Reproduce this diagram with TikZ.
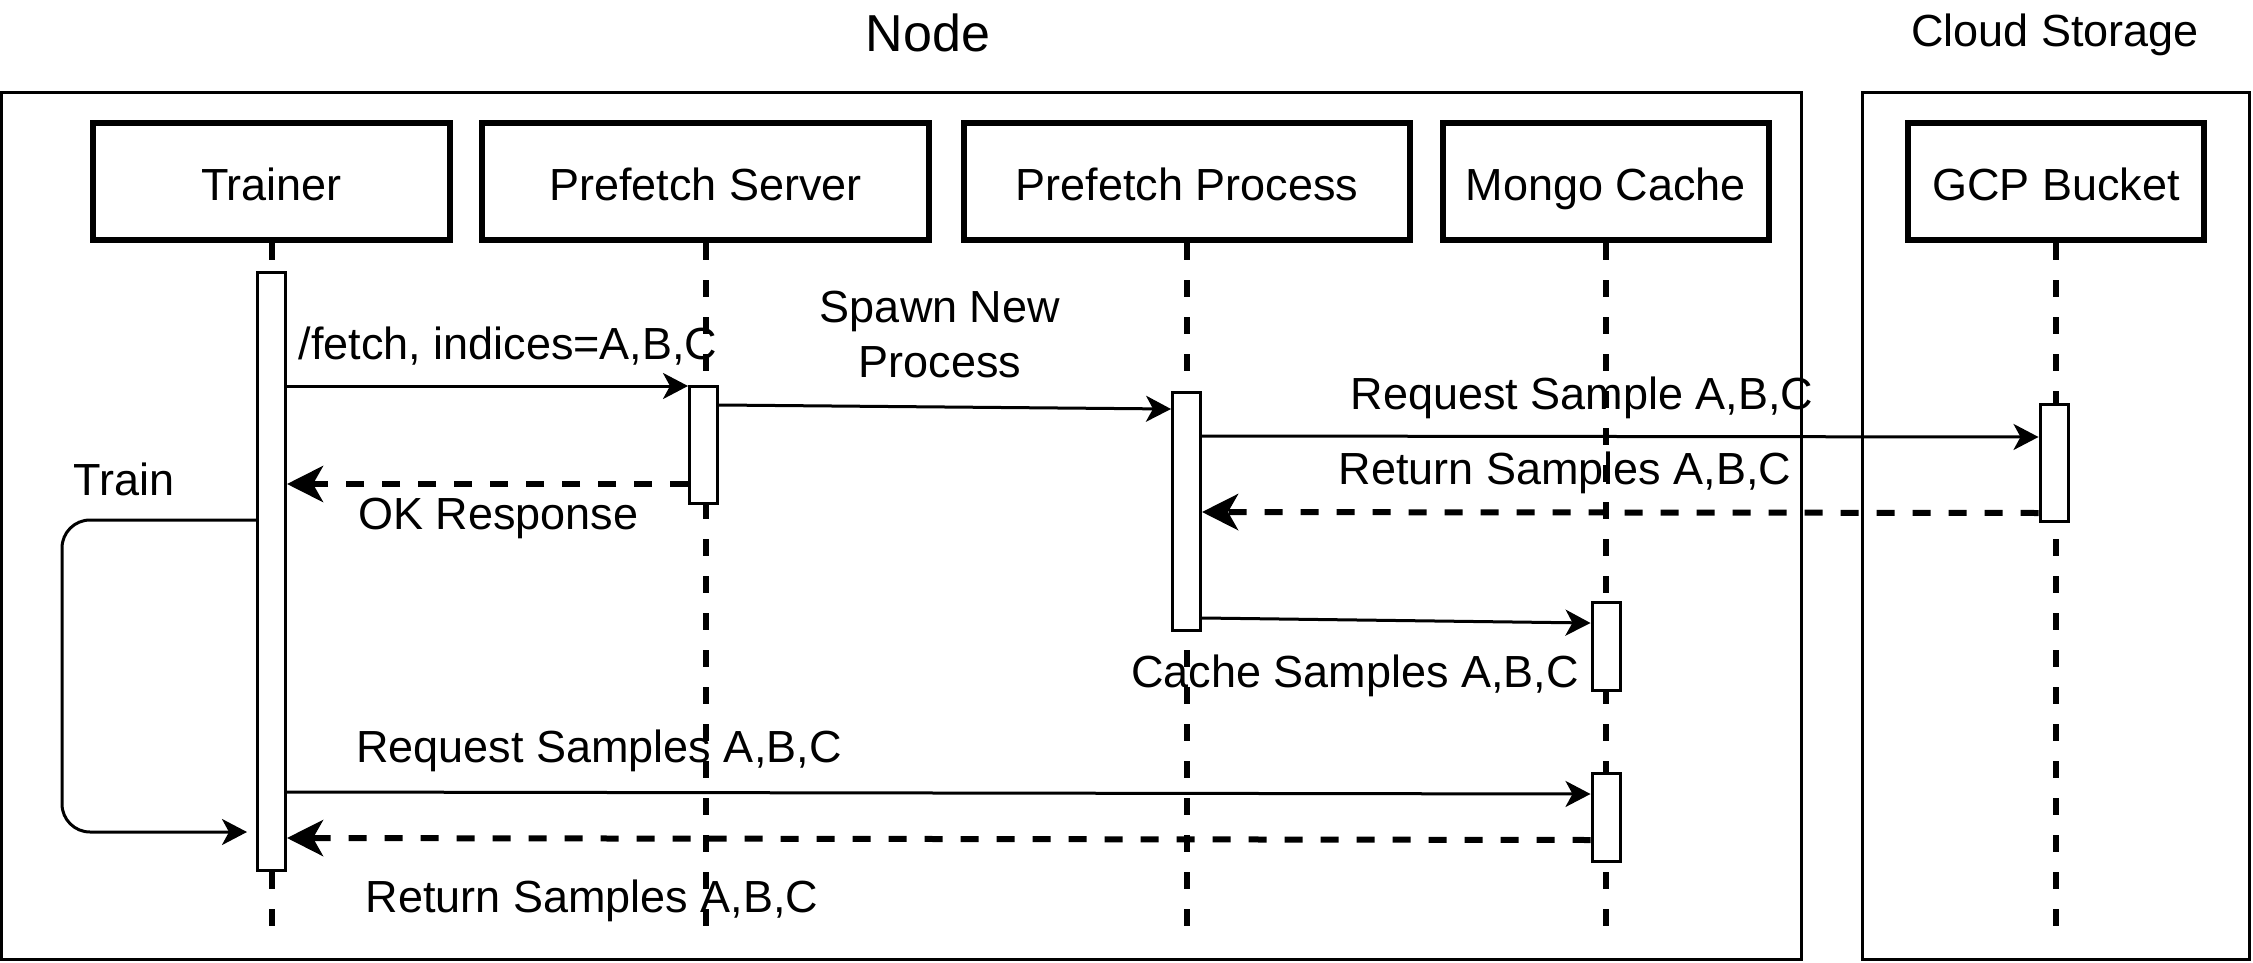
\documentclass[tikz,border=0pt]{standalone}
\usepackage{fontspec}
\setmainfont{Liberation Sans}
\usetikzlibrary{arrows.meta}
\newcommand\lblfont{\fontsize{22.5}{27}\selectfont}
\begin{document}
\begin{tikzpicture}[x=0.5pt,y=-0.5pt,
  hdr/.style={draw, line width=3pt, minimum height=58.5pt, inner sep=0pt, text height=20pt, text depth=1.5pt, font=\lblfont},
  act/.style={draw, fill=white, line width=1.5pt, minimum width=14pt, inner sep=0pt},
  life/.style={line width=3pt, dash pattern=on 8.5pt off 10pt},
  msg/.style={line width=1.5pt, -{Stealth[length=12.5pt,width=13pt,inset=3.5pt]}},
  ret/.style={line width=3pt, dash pattern=on 9pt off 9pt, -{Stealth[length=18pt,width=18pt,inset=5pt]}},
  lbl/.style={anchor=base, inner sep=0pt, font=\lblfont},
  frame/.style={draw, line width=1.5pt, inner sep=0pt}]
\useasboundingbox (0,0) rectangle (2253,963);

% frames and titles
\node[frame, minimum width=900pt, minimum height=433.5pt] (nodeframe) at (901.5,526) {};
\node[frame, minimum width=193.5pt, minimum height=433.5pt] (cloudframe) at (2056,526) {};
\node[anchor=base, inner sep=0pt, font=\fontsize{26}{31}\selectfont] (nodetitle) at (928,52) {Node};
\node[lbl] (cloudtitle) at (2055,47) {Cloud Storage};

% headers
\node[hdr, minimum width=178.5pt] (trainer) at (271.5,181.5) {Trainer};
\node[hdr, minimum width=223.5pt] (pserver) at (705.5,181.5) {Prefetch Server};
\node[hdr, minimum width=223pt] (pproc) at (1187,181.5) {Prefetch Process};
\node[hdr, minimum width=163pt] (mongo) at (1606,181.5) {Mongo Cache};
\node[hdr, minimum width=148pt] (gcp) at (2056,181.5) {GCP Bucket};

% lifelines
\coordinate (tend) at (271.5,932);
\coordinate (psend) at (705.5,932);
\coordinate (ppend) at (1187,932);
\coordinate (mend) at (1606,932);
\coordinate (gend) at (2056,932);
\draw[life] (trainer.south) -- (tend);
\draw[life] (pserver.south) -- (psend);
\draw[life] (pproc.south) -- (ppend);
\draw[life] (mongo.south) -- (mend);
\draw[life] (gcp.south) -- (gend);

% activations
\node[act, minimum height=299pt] (tact) at (271.5,571) {};
\node[act, minimum height=58.5pt] (psact) at (703.5,445) {};
\node[act, minimum height=119pt] (ppact) at (1186.5,511.5) {};
\node[act, minimum height=58.5pt] (gact) at (2054,463) {};
\node[act, minimum height=44pt] (mact1) at (1606,646.5) {};
\node[act, minimum height=44pt] (mact2) at (1606,817.5) {};

% messages
\draw[msg] (tact.east |- 0,386) -- (psact.west |- 0,386);
\draw[msg] (psact.east |- 0,405) -- (ppact.west |- 0,409);
\draw[msg] (ppact.east |- 0,436) -- (gact.west |- 0,437);
\draw[ret] (gact.west |- 0,513) -- (ppact.east |- 0,512);
\draw[msg] (ppact.east |- 0,618) -- (mact1.west |- 0,623);
\draw[ret] (psact.west |- 0,484) -- (tact.east |- 0,484);
\coordinate (trainend) at (247,832);
\draw[msg, rounded corners=14pt] (tact.west |- 0,520) -- (62,520) -- (62,832) -- (trainend);
\draw[msg] (tact.east |- 0,792) -- (mact2.west |- 0,794);
\draw[ret] (mact2.west |- 0,840) -- (tact.east |- 0,838);

% labels
\node[lbl] (fetchlbl) at (508,359) {/fetch, indices=A,B,C};
\node[lbl] (spawnlbl) at (940,322) {Spawn New};
\node[lbl] (spawnlbl2) at (940,377) {Process};
\node[lbl] (reqlbl) at (1582,409) {Request Sample A,B,C};
\node[lbl] (retlbl) at (1565,484) {Return Samples A,B,C};
\node[lbl] (cachelbl) at (1355,687) {Cache Samples A,B,C};
\node[lbl] (trainlbl) at (124,495) {Train};
\node[lbl] (oklbl) at (498.5,529) {OK Response};
\node[lbl] (req2lbl) at (599,762) {Request Samples A,B,C};
\node[lbl] (ret2lbl) at (592,912) {Return Samples A,B,C};
\end{tikzpicture}
\end{document}
